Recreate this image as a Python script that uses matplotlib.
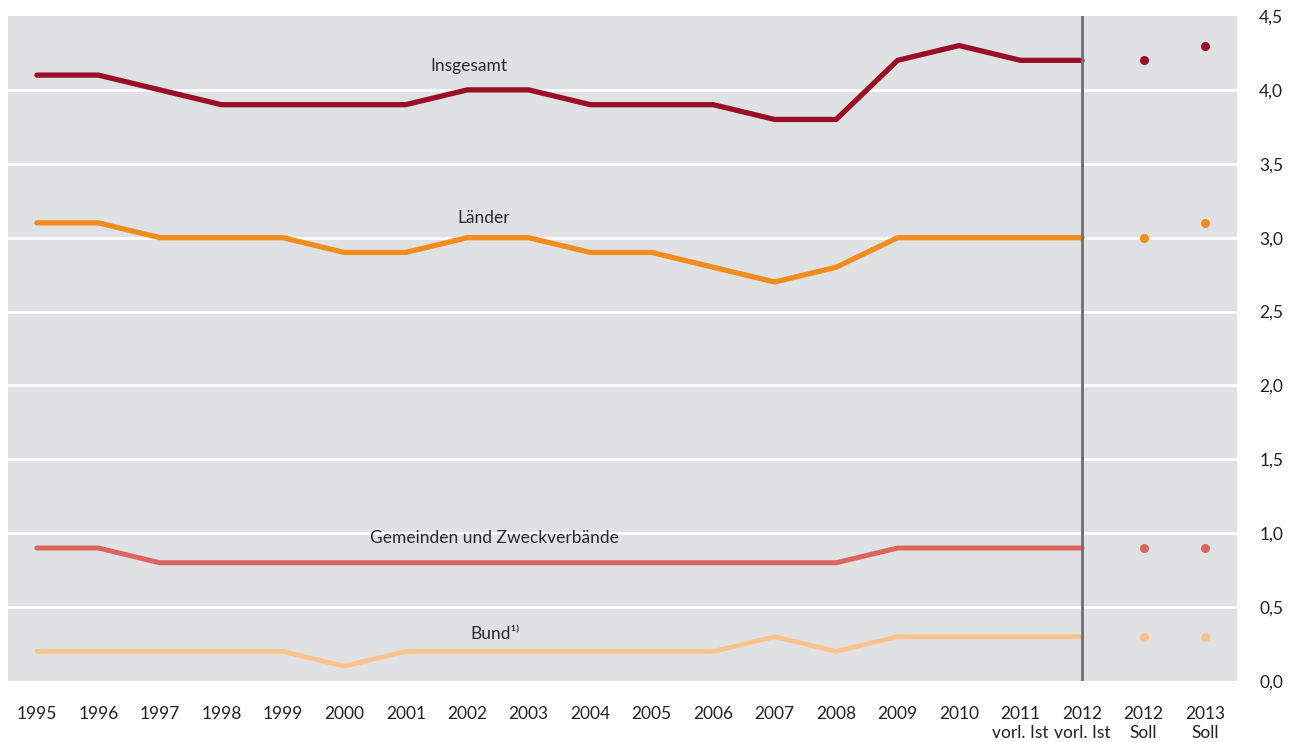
import matplotlib.pyplot as plt

plt.rcParams["font.family"] = ["Lato", "DejaVu Sans"]

# Kategorien (x-Achse)
years = ["1995", "1996", "1997", "1998", "1999", "2000", "2001", "2002", "2003",
         "2004", "2005", "2006", "2007", "2008", "2009", "2010",
         "2011\nvorl. Ist", "2012\nvorl. Ist", "2012\nSoll", "2013\nSoll"]

# Ist-Werte 1995-2012 (Linien)
insgesamt = [4.1, 4.1, 4.0, 3.9, 3.9, 3.9, 3.9, 4.0, 4.0, 3.9, 3.9, 3.9, 3.8, 3.8, 4.2, 4.3, 4.2, 4.2]
laender = [3.1, 3.1, 3.0, 3.0, 3.0, 2.9, 2.9, 3.0, 3.0, 2.9, 2.9, 2.8, 2.7, 2.8, 3.0, 3.0, 3.0, 3.0]
gemeinden = [0.9, 0.9, 0.8, 0.8, 0.8, 0.8, 0.8, 0.8, 0.8, 0.8, 0.8, 0.8, 0.8, 0.8, 0.9, 0.9, 0.9, 0.9]
bund = [0.2, 0.2, 0.2, 0.2, 0.2, 0.1, 0.2, 0.2, 0.2, 0.2, 0.2, 0.2, 0.3, 0.2, 0.3, 0.3, 0.3, 0.3]

# Soll-Werte 2012/2013 (Punkte)
insgesamt_soll = [4.2, 4.3]
laender_soll = [3.0, 3.1]
gemeinden_soll = [0.9, 0.9]
bund_soll = [0.3, 0.3]

yticks = [0.0, 0.5, 1.0, 1.5, 2.0, 2.5, 3.0, 3.5, 4.0, 4.5]

series = [
    ("Insgesamt", insgesamt, insgesamt_soll, "#9a0f26", 3.8, (7.03, 4.16)),
    ("Länder", laender, laender_soll, "#f28c1f", 3.8, (7.26, 3.13)),
    ("Gemeinden und Zweckverbände", gemeinden, gemeinden_soll, "#dc6560", 3.6, (7.45, 0.97)),
    ("Bund¹⁾", bund, bund_soll, "#fbc38b", 3.4, (7.45, 0.32)),
]

fig = plt.figure(figsize=(13.03, 7.42), dpi=100)
ax = fig.add_axes([8 / 1303, 61 / 742, 1229 / 1303, 665 / 742])
ax.set_facecolor("#e0e1e3")

ist_x = list(range(len(insgesamt)))
soll_x = [len(insgesamt), len(insgesamt) + 1]

for name, ist, soll, color, lw, (tx, ty) in series:
    ax.plot(ist_x, ist, color=color, linewidth=lw, solid_capstyle="round",
            solid_joinstyle="round", zorder=3)
    ax.plot(soll_x, soll, linestyle="none", marker="o", markersize=5.5,
            color=color, zorder=3)
    ax.text(tx, ty, name, ha="center", va="center", fontsize=12.5, color="#2a2a2a", zorder=4)

# Trennlinie zwischen Ist und Soll
ax.axvline(17, color="#6e6e6e", linewidth=2, zorder=5)

ax.set_xlim(-0.47, 19.52)
ax.set_ylim(0, 4.5)

for y in yticks[1:-1]:
    ax.axhline(y, color="white", linewidth=2, zorder=1)

ax.set_xticks(range(len(years)))
ax.set_xticklabels(years, fontsize=12.5, color="#222222", linespacing=1.2, va="top")
ax.set_yticks(yticks)
ax.set_yticklabels([f"{v:.1f}".replace(".", ",") for v in yticks], fontsize=12.5, color="#222222")
ax.yaxis.tick_right()
ax.tick_params(axis="x", length=0, pad=18)
ax.tick_params(axis="y", length=0, pad=16)

for spine in ax.spines.values():
    spine.set_visible(False)

fig.savefig("out.png", dpi=100, facecolor="white")
plt.close(fig)
